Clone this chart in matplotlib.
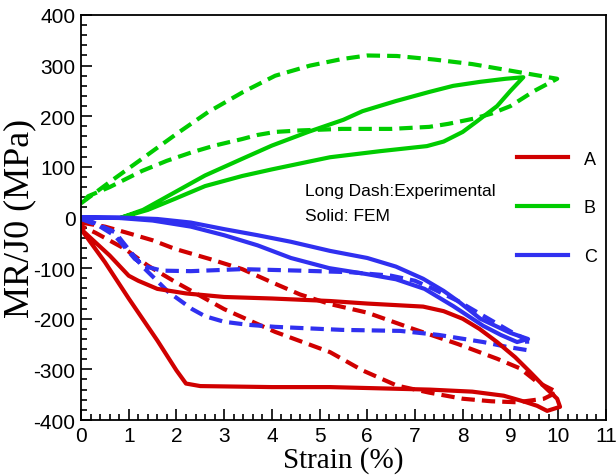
"""
Hysteresis loops A/B/C: experimental (long dash) vs FEM (solid).
"""

import numpy as np
import matplotlib
matplotlib.use("Agg")
import matplotlib.pyplot as plt
from matplotlib.lines import Line2D
from matplotlib.ticker import MultipleLocator

# ---- data (strain %, MPa) ----
# each loop is traced as one closed path: loading branch then return branch
a_exp_strain = [0.0, 0.5, 0.92, 1.5, 1.97, 2.7, 3.38, 4.0, 4.59, 5.22, 6.0, 6.96, 7.9, 8.72, 9.2, 9.56, 9.98,
                9.7, 9.14, 8.6, 8.0, 7.3, 6.62, 5.9, 5.22, 4.07, 3.0, 1.97, 1.4, 0.92, 0.3, 0.0]
a_exp_stress = [-10, -18, -29, -45, -62, -82, -102, -128, -152, -171, -188, -220, -250, -279, -298, -325, -345,
                -358, -365, -363, -358, -346, -332, -302, -266, -226, -181, -127, -95, -62, -30, -17]

a_fem_strain = [0.0, 0.5, 1.0, 1.6, 2.0, 2.2, 2.5, 4.0, 5.22, 7.32, 8.2, 8.86, 9.3, 9.56, 9.77, 10.04,
                9.98, 9.7, 9.41, 9.1, 8.72, 8.35, 8.0, 7.6, 7.17, 6.0, 5.22, 4.0, 3.0, 2.2, 1.6, 1.2, 1.0, 0.6, 0.0]
a_fem_stress = [-23, -88, -160, -243, -302, -328, -333, -335, -335, -340, -344, -352, -364, -372, -382, -374,
                -358, -333, -305, -276, -246, -220, -200, -185, -176, -170, -165, -160, -157, -150, -141, -125, -115, -75, -23]

b_exp_strain = [0.0, 0.6, 1.28, 2.0, 2.66, 3.4, 4.07, 4.8, 5.47, 6.0, 6.62, 7.4, 8.2, 9.0, 9.98,
                9.5, 9.0, 8.6, 8.22, 7.7, 7.3, 6.5, 5.9, 5.47, 4.6, 4.07, 3.7, 3.38, 2.8, 2.33, 1.8, 1.28, 0.6, 0.15, 0.0]
b_exp_stress = [28, 70, 116, 165, 208, 248, 280, 300, 313, 320, 319, 312, 303, 290, 274,
                250, 220, 205, 195, 185, 179, 175, 175, 175, 172, 169, 163, 155, 142, 129, 112, 92, 60, 42, 28]

b_fem_strain = [0.85, 1.3, 1.97, 2.6, 3.38, 4.0, 4.76, 5.5, 5.9, 6.6, 7.3, 7.8, 8.37, 8.9, 9.27,
                9.0, 8.72, 8.3, 8.0, 7.6, 7.25, 6.27, 5.22, 4.76, 4.0, 3.38, 2.6, 1.97, 1.4, 0.85]
b_fem_stress = [0, 15, 50, 83, 116, 142, 169, 193, 210, 230, 248, 260, 268, 274, 277,
                250, 220, 190, 169, 150, 141, 131, 119, 110, 95, 82, 62, 37, 15, 0]

c_exp_strain = [0.0, 0.35, 0.71, 1.13, 1.4, 1.7, 2.3, 3.38, 4.59, 5.64, 6.5, 7.0, 7.38, 7.9, 8.43, 9.0, 9.35,
                9.35, 8.9, 8.43, 7.5, 6.69, 5.47, 4.07, 3.5, 3.0, 2.6, 2.33, 1.83, 1.28, 0.71, 0.1]
c_exp_stress = [-3, -15, -36, -82, -98, -105, -106, -102, -105, -108, -115, -125, -141, -165, -194, -225, -242,
                -262, -255, -246, -232, -224, -222, -216, -212, -206, -195, -181, -147, -96, -29, -3]

c_fem_strain = [0.0, 0.8, 1.6, 2.3, 3.0, 3.7, 4.4, 5.22, 6.0, 6.6, 7.17, 7.6, 7.9, 8.37, 9.0, 9.37,
                9.14, 8.8, 8.43, 7.8, 7.2, 6.6, 6.0, 5.2, 4.4, 3.7, 3.0, 2.3, 1.5, 0.8, 0.0]
c_fem_stress = [0, 0, -3, -10, -23, -35, -48, -66, -80, -97, -121, -145, -165, -200, -228, -240,
                -246, -232, -214, -175, -141, -122, -112, -100, -80, -55, -35, -18, -6, -1, 0]

loop_names = ["A", "B", "C"]
loop_colors = ["#D00000", "#00CC00", "#3030F0"]

plt.rcParams["axes.unicode_minus"] = False


def main():
    fig = plt.figure(figsize=(6.16, 4.77), dpi=100)
    ax = fig.add_axes([0.1315, 0.1174, 0.852, 0.8491])

    exp_loops = [(a_exp_strain, a_exp_stress), (b_exp_strain, b_exp_stress), (c_exp_strain, c_exp_stress)]
    fem_loops = [(a_fem_strain, a_fem_stress), (b_fem_strain, b_fem_stress), (c_fem_strain, c_fem_stress)]

    lw = 3.0
    for (xs, ys), col in zip(exp_loops, loop_colors):
        ax.plot(xs, ys, color=col, lw=lw, dashes=(3.2, 1.7), solid_joinstyle="round")
    for (xs, ys), col in zip(fem_loops, loop_colors):
        ax.plot(xs, ys, color=col, lw=lw, solid_joinstyle="round")

    ax.set_xlim(0, 11)
    ax.set_ylim(-400, 400)
    ax.xaxis.set_major_locator(MultipleLocator(1))
    ax.xaxis.set_minor_locator(MultipleLocator(0.2))
    ax.yaxis.set_major_locator(MultipleLocator(100))
    ax.yaxis.set_minor_locator(MultipleLocator(20))
    ax.tick_params(which="both", direction="in", top=False, right=False,
                   labelsize=15, width=1.2)
    ax.tick_params(which="major", length=8, pad=4)
    ax.tick_params(which="minor", length=4)
    for lab in ax.get_xticklabels() + ax.get_yticklabels():
        lab.set_family("Liberation Sans")
    for sp in ax.spines.values():
        sp.set_linewidth(1.3)

    ax.set_xlabel("Strain (%)", family="Liberation Serif", fontsize=21, labelpad=1)
    ax.set_ylabel("MR/J0 (MPa)", family="Liberation Serif", fontsize=26, labelpad=-2)

    ax.text(4.7, 53, "Long Dash:Experimental", family="Liberation Sans", fontsize=12.5,
            va="center")
    ax.text(4.7, 3, "Solid: FEM", family="Liberation Sans", fontsize=12.5, va="center")

    handles = [Line2D([], [], color=c, lw=lw) for c in loop_colors]
    ax.legend(handles, loop_names, loc="upper left", bbox_to_anchor=(0.8, 0.705),
              frameon=False, handlelength=2.8, labelspacing=1.75, handletextpad=0.9,
              prop={"family": "Liberation Sans", "size": 13})

    fig.savefig("out.png", dpi=100, facecolor="white")
    plt.close(fig)


if __name__ == "__main__":
    main()
